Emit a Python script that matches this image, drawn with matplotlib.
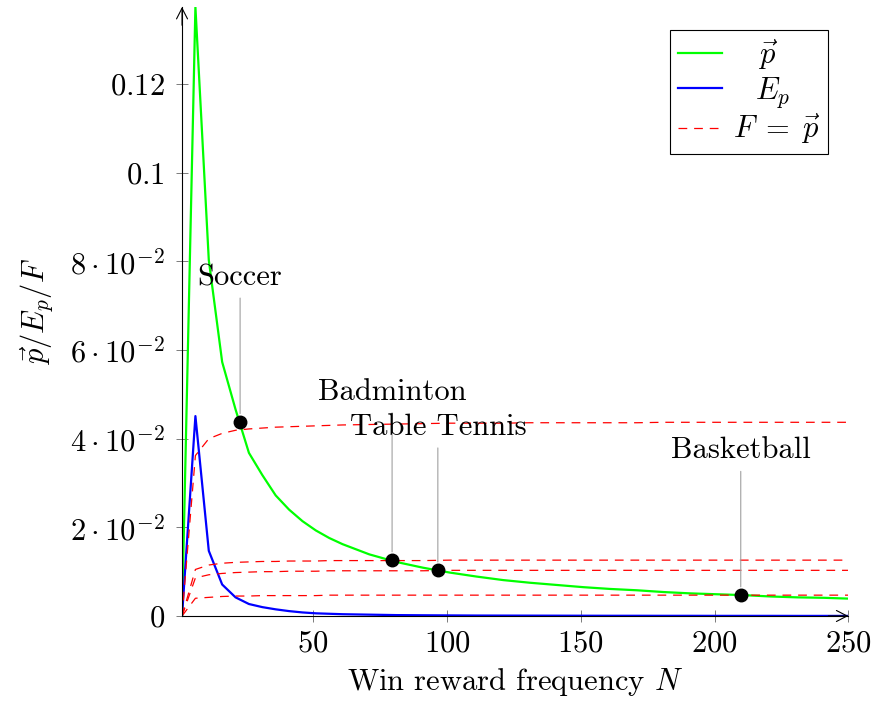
import matplotlib
matplotlib.use('Agg')
import matplotlib.pyplot as plt

plt.rcParams['font.family'] = 'serif'
plt.rcParams['font.serif'] = ['cmr10']
plt.rcParams['mathtext.fontset'] = 'cm'
plt.rcParams['axes.unicode_minus'] = False
plt.rcParams['font.size'] = 22

# win reward frequency N (sample points)
n_vals = [1, 6, 11, 16, 21, 26, 31, 36, 41, 46, 51, 56, 61, 71, 81, 91, 101,
          111, 121, 131, 141, 151, 161, 171, 181, 191, 201, 211, 221, 231, 241, 251]

# p vector
p_vals = [0.0, 0.1374, 0.0803, 0.0573, 0.0466, 0.0368, 0.0318, 0.0272, 0.0240,
          0.0214, 0.0193, 0.0176, 0.0162, 0.0139, 0.0122, 0.0109, 0.0098,
          0.0089, 0.0081, 0.0075, 0.0070, 0.0065, 0.0061, 0.0058, 0.0054,
          0.0051, 0.0049, 0.0047, 0.0044, 0.0042, 0.0041, 0.0039]

# E_p
ep_vals = [0.0, 0.0451, 0.0147, 0.0071, 0.0042, 0.0027, 0.0020, 0.0015, 0.0011,
           0.0008, 0.0006, 0.0005, 0.0004, 0.0003, 0.0002, 0.00016, 0.00013,
           0.0001, 0.00009, 0.00008, 0.00007, 0.00006, 0.00005, 0.00005,
           0.00004, 0.00004, 0.00003, 0.00003, 0.00003, 0.00002, 0.00002, 0.00002]

# F = p curves, one per sport
f_soccer = [0.0, 0.0362, 0.0400, 0.0412, 0.0419, 0.0422, 0.0424, 0.0426, 0.0427,
            0.0428, 0.0429, 0.0430, 0.0431, 0.0432, 0.0433, 0.0434, 0.0435,
            0.0435, 0.0435, 0.0436, 0.0436, 0.0436, 0.0436, 0.0436, 0.0437,
            0.0437, 0.0437, 0.0437, 0.0437, 0.0437, 0.0437, 0.0437]
f_badminton = [0.0, 0.0105, 0.0115, 0.0119, 0.0121, 0.0122, 0.0123, 0.0123,
               0.0124, 0.0124, 0.0124, 0.0125, 0.0125, 0.0125, 0.0125, 0.0125,
               0.0126, 0.0126, 0.0126, 0.0126, 0.0126, 0.0126, 0.0126, 0.0126,
               0.0126, 0.0126, 0.0126, 0.0126, 0.0126, 0.0126, 0.0126, 0.0126]
f_tabletennis = [0.0, 0.0086, 0.0093, 0.0096, 0.0098, 0.0099, 0.0100, 0.0100,
                 0.0101, 0.0101, 0.0101, 0.0102, 0.0102, 0.0102, 0.0102, 0.0102,
                 0.0103, 0.0103, 0.0103, 0.0103, 0.0103, 0.0103, 0.0103, 0.0103,
                 0.0103, 0.0103, 0.0103, 0.0103, 0.0103, 0.0103, 0.0103, 0.0103]
f_basketball = [0.0, 0.0040, 0.0042, 0.0044, 0.0045, 0.0045, 0.0046, 0.0046,
                0.0046, 0.0046, 0.0046, 0.0047, 0.0047, 0.0047, 0.0047, 0.0047,
                0.0047, 0.0047, 0.0047, 0.0047, 0.0047, 0.0047, 0.0047, 0.0047,
                0.0047, 0.0047, 0.0047, 0.0047, 0.0047, 0.0047, 0.0047, 0.0047]

# equilibrium points (where F = p)
sports = ['Soccer', 'Badminton', 'Table Tennis', 'Basketball']
sport_n = [22.7, 79.5, 96.6, 209.8]
sport_p = [0.0438, 0.0126, 0.0103, 0.0047]

y_ticks = [0, 0.02, 0.04, 0.06, 0.08, 0.10, 0.12]
y_ticklabels = ['$0$', r'$2\cdot10^{-2}$', r'$4\cdot10^{-2}$', r'$6\cdot10^{-2}$',
                r'$8\cdot10^{-2}$', '$0.1$', '$0.12$']
x_ticks = [50, 100, 150, 200, 250]

fig = plt.figure(figsize=(8.76, 7.06), dpi=100)
ax = fig.add_axes([0.2078, 0.1275, 0.7606, 0.8626])

# legend text is padded so the short entries sit centred like the original
ax.plot(n_vals, p_vals, color='#00ff00', lw=1.6, label=r'$\quad\vec{p}$')
ax.plot(n_vals, ep_vals, color='#0000ff', lw=1.6, label=r'$\;\;\;E_p$')
for i, f in enumerate([f_soccer, f_badminton, f_tabletennis, f_basketball]):
    ax.plot(n_vals, f, color='#ff0000', lw=0.9, dashes=[7, 5.5],
            label=r'$F\;=\;\vec{p}$' if i == 0 else None)

ax.plot(sport_n, sport_p, 'o', color='black', ms=9, zorder=5)
pin_offsets = [104, 121, 103, 104]  # label height above the dot, points
for name, n, p, off in zip(sports, sport_n, sport_p, pin_offsets):
    ax.annotate(name, xy=(n, p), xytext=(0, off), textcoords='offset points',
                ha='center', va='center',
                arrowprops=dict(arrowstyle='-', color='#a0a0a0', lw=0.8,
                                shrinkA=3, shrinkB=6))

ax.set_xlim(1, 250)
ax.set_ylim(0, 0.1374)
ax.set_xticks(x_ticks)
ax.set_xticklabels(['$%d$' % t for t in x_ticks])
ax.set_yticks(y_ticks)
ax.set_yticklabels(y_ticklabels)
ax.tick_params(direction='inout', length=8, width=0.6, color='#666666')
ax.tick_params(axis='y', pad=8.5)
ax.tick_params(axis='x', pad=6)

for s in ['top', 'right']:
    ax.spines[s].set_visible(False)
for s in ['left', 'bottom']:
    ax.spines[s].set_linewidth(0.8)
# axis arrows
ax.annotate('', xy=(1.0, 0), xytext=(0.97, 0), xycoords='axes fraction',
            arrowprops=dict(arrowstyle='->,head_length=0.35,head_width=0.18',
                            lw=0.8, color='black', shrinkA=0, shrinkB=0))
ax.annotate('', xy=(0, 1.0), xytext=(0, 0.97), xycoords='axes fraction',
            arrowprops=dict(arrowstyle='->,head_length=0.35,head_width=0.18',
                            lw=0.8, color='black', shrinkA=0, shrinkB=0))

ax.set_xlabel('Win reward frequency $N$', labelpad=6)
ax.set_ylabel(r'$\vec{p}/E_p/F$', labelpad=10)

leg = ax.legend(loc='upper right', bbox_to_anchor=(0.9695, 0.962),
                borderaxespad=0, fancybox=False, framealpha=1,
                edgecolor='black', handlelength=1.45, handletextpad=0.35,
                borderpad=0.25, labelspacing=0.08)
leg.get_frame().set_linewidth(0.8)

fig.savefig('out.png', dpi=100)
